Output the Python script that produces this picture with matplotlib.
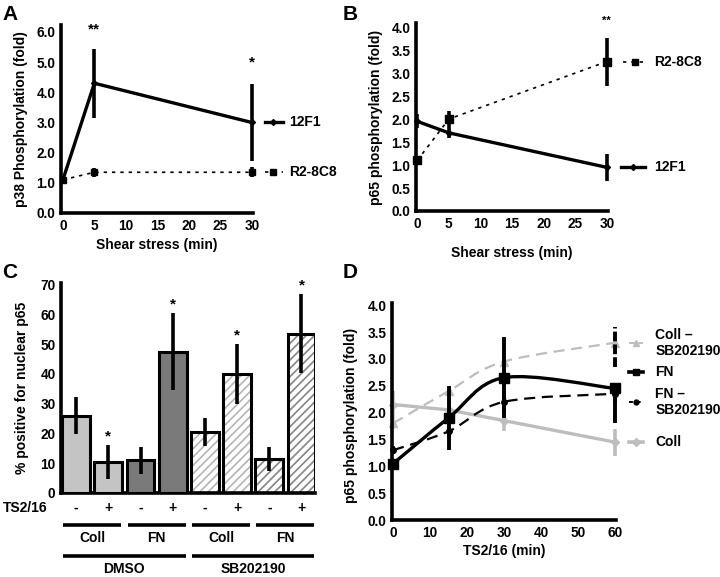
import numpy as np
import matplotlib.pyplot as plt
from matplotlib.path import Path
from matplotlib.patches import PathPatch
import matplotlib.transforms as mtransforms

plt.rcParams['font.family'] = ['Liberation Sans', 'DejaVu Sans']
plt.rcParams['font.weight'] = 'bold'
plt.rcParams['axes.labelweight'] = 'bold'
plt.rcParams['hatch.linewidth'] = 1.2

# ---------- data ----------
# A: p38 phosphorylation
a_x = [0, 5, 30]
a_12f1 = [1.1, 4.3, 3.0]
a_12f1_err = [0.0, 1.15, 1.28]
a_r2 = [1.1, 1.35, 1.35]
a_r2_err = [0.1, 0.15, 0.17]

# B: p65 phosphorylation
b_x = [0, 5, 30]
b_12f1 = [1.95, 1.7, 0.95]
b_12f1_err = [0.15, 0.12, 0.3]
b_r2 = [1.1, 2.0, 3.25]
b_r2_err = [0.0, 0.17, 0.52]

# C: bar chart
c_vals = [26, 10.5, 11, 47.5, 20.5, 40, 11.5, 53.5]
c_err = [6.3, 5.7, 4.5, 13, 4.8, 10, 4, 13.3]
c_star = [False, True, False, True, False, True, False, True]
c_sign = ['-', '+', '-', '+', '-', '+', '-', '+']
c_sub = ['Coll', 'FN', 'Coll', 'FN']
c_top = ['DMSO', 'SB202190']

# D: time course
d_x = [0, 15, 30, 60]
d_fn = [1.05, 1.9, 2.65, 2.45]
d_fn_err = [0.0, 0.6, 0.75, 0.0]
d_fn_sb = [1.3, 1.65, 2.2, 2.35]
d_fn_sb_err = [0.08, 0.1, 0.2, 0.15]
d_coll_sb = [1.8, 2.4, 2.95, 3.3]
d_coll_sb_err = [0.1, 0.1, 0.1, 0.1]
d_coll = [2.15, 2.05, 1.85, 1.45]
d_coll_err = [0.25, 0.1, 0.2, 0.25]
d_fn60_hi = [2.85, 3.6]   # dashed error bar at 60 min, upper part
d_fn60_lo = [1.85, 2.5]

LW = 2.4
GRAY = '#bdbdbd'
TICK = 9.8
LAB = 10

fig = plt.figure(figsize=(7.2, 5.77), dpi=100)
W, H = 720, 577


def add_ax(l, t, r, b):
    return fig.add_axes([l / W, 1 - b / H, (r - l) / W, (b - t) / H])


def style(ax):
    for s in ['top', 'right']:
        ax.spines[s].set_visible(False)
    for s in ['left', 'bottom']:
        ax.spines[s].set_linewidth(2.6)
    ax.tick_params(length=0, labelsize=TICK, pad=4)


def smooth(ax, x, y, sx, sy, **kw):
    # Excel-like smoothed line (cubic bezier through points)
    p = np.column_stack([np.array(x) * sx, np.array(y) * sy])
    verts = [p[0]]
    codes = [Path.MOVETO]
    n = len(p)
    for i in range(n - 1):
        p0 = p[i - 1] if i > 0 else p[i]
        p3 = p[i + 2] if i + 2 < n else p[i + 1]
        c1 = p[i] + (p[i + 1] - p0) / 6
        c2 = p[i + 1] - (p3 - p[i]) / 6
        verts += [c1, c2, p[i + 1]]
        codes += [Path.CURVE4] * 3
    verts = np.array(verts) / [sx, sy]
    ax.add_patch(PathPatch(Path(verts, codes), fill=False, **kw))


# ---------- A ----------
axA = add_ax(61, 25, 253, 213)
style(axA)
axA.set_xlim(-0.3, 30.2)
axA.set_ylim(0, 6.23)
axA.set_yticks(np.arange(0, 6.1, 1.0))
axA.set_yticklabels([f'{v:.1f}' for v in np.arange(0, 6.1, 1.0)])
axA.set_xticks([0, 5, 10, 15, 20, 25, 30])
axA.errorbar(a_x, a_r2, yerr=a_r2_err, color='black', lw=1.2, ls=(0, (2, 3)),
             marker='s', ms=5, elinewidth=2.6, capsize=0, clip_on=False, zorder=3)
axA.errorbar(a_x, a_12f1, yerr=a_12f1_err, color='black', lw=LW, marker='D', ms=3,
             elinewidth=2.6, capsize=0, clip_on=False, zorder=4)
axA.set_ylabel('p38 Phosphorylation (fold)', fontsize=LAB, labelpad=6)
axA.set_xlabel('Shear stress (min)', fontsize=LAB, labelpad=4)
axA.text(5, 5.85, '**', ha='center', va='bottom', fontsize=11)
axA.text(30, 4.75, '*', ha='center', va='bottom', fontsize=11)
trA = mtransforms.blended_transform_factory(axA.transAxes, axA.transData)
axA.plot([1.06, 1.155], [3.0, 3.0], transform=trA, color='black', lw=LW, clip_on=False)
axA.plot([1.105], [3.0], transform=trA, marker='D', ms=3, color='black', clip_on=False)
axA.text(1.19, 3.0, '12F1', transform=trA, va='center', fontsize=LAB)
axA.plot([1.06, 1.155], [1.35, 1.35], transform=trA, color='black', lw=1.2,
         ls=(0, (2, 3)), clip_on=False)
axA.plot([1.105], [1.35], transform=trA, marker='s', ms=5, color='black', clip_on=False)
axA.text(1.19, 1.35, 'R2-8C8', transform=trA, va='center', fontsize=LAB)

# ---------- B ----------
axB = add_ax(416, 23, 608, 211)
style(axB)
axB.set_xlim(-0.2, 30.2)
axB.set_ylim(0, 4.09)
yt = np.arange(0, 4.01, 0.5)
axB.set_yticks(yt)
axB.set_yticklabels([f'{v:.1f}' for v in yt])
axB.set_xticks([0, 5, 10, 15, 20, 25, 30])
axB.errorbar(b_x, b_r2, yerr=b_r2_err, color='black', lw=1.2, ls=(0, (2, 3)),
             marker='s', ms=6, elinewidth=2.6, capsize=0, clip_on=False, zorder=3)
axB.errorbar(b_x, b_12f1, yerr=b_12f1_err, color='black', lw=LW, marker='D', ms=3,
             elinewidth=2.6, capsize=0, clip_on=False, zorder=4)
axB.set_ylabel('p65 phosphorylation (fold)', fontsize=LAB, labelpad=6)
axB.set_xlabel('Shear stress (min)', fontsize=LAB, labelpad=11)
axB.text(30, 4.02, '**', ha='center', va='bottom', fontsize=8)
trB = mtransforms.blended_transform_factory(axB.transAxes, axB.transData)
axB.plot([1.08, 1.21], [3.25, 3.25], transform=trB, color='black', lw=1.2,
         ls=(0, (2, 3)), clip_on=False)
axB.plot([1.14], [3.25], transform=trB, marker='s', ms=5, color='black', clip_on=False)
axB.text(1.24, 3.25, 'R2-8C8', transform=trB, va='center', fontsize=LAB)
axB.plot([1.07, 1.195], [0.95, 0.95], transform=trB, color='black', lw=LW, clip_on=False)
axB.plot([1.13], [0.95], transform=trB, marker='D', ms=3, color='black', clip_on=False)
axB.text(1.24, 0.95, '12F1', transform=trB, va='center', fontsize=LAB)

# ---------- C ----------
axC = add_ax(61, 283, 315, 493)
style(axC)
axC.set_ylim(0, 70.5)
axC.set_xlim(-0.47, 7.42)
axC.set_yticks(range(0, 71, 10))
axC.set_xticks([])
pos = np.arange(len(c_vals))
faces = ['#c4c4c4', '#c4c4c4', '#7a7a7a', '#7a7a7a', 'white', 'white', 'white', 'white']
hatches = [None, None, None, None, '////', '////', '////', '////']
hcols = [None, None, None, None, '#b5b5b5', '#b5b5b5', '#858585', '#858585']
for i in pos:
    if hatches[i]:
        axC.bar(i, c_vals[i], width=0.86, color='white', edgecolor=hcols[i],
                hatch=hatches[i], lw=0, zorder=2)
        axC.bar(i, c_vals[i], width=0.86, color='none', edgecolor='black', lw=2.2, zorder=3)
    else:
        axC.bar(i, c_vals[i], width=0.86, color=faces[i], edgecolor='black', lw=2.2, zorder=3)
axC.errorbar(pos, c_vals, yerr=c_err, fmt='none', ecolor='black', elinewidth=2.6,
             capsize=0, zorder=4)
for i in pos:
    if c_star[i]:
        axC.text(i, c_vals[i] + c_err[i] + 0.5, '*', ha='center', va='bottom', fontsize=11)
    axC.text(i, -5, c_sign[i], ha='center', va='center', fontsize=LAB)
axC.text(-1.58, -5, 'TS2/16', ha='center', va='center', fontsize=LAB)
axC.set_ylabel('% positive for nuclear p65', fontsize=LAB, labelpad=8)
trC = mtransforms.blended_transform_factory(axC.transData, axC.transAxes)
for g in range(4):
    x0, x1 = 2 * g - 0.4, 2 * g + 1.4
    axC.plot([x0, x1], [-0.152, -0.152], transform=trC, color='black', lw=2.6,
             clip_on=False, solid_capstyle='butt')
    axC.text(2 * g + 0.5, -0.215, c_sub[g], transform=trC, ha='center', va='center',
             fontsize=LAB)
for g in range(2):
    x0, x1 = 4 * g - 0.4, 4 * g + 3.4
    axC.plot([x0, x1], [-0.30, -0.30], transform=trC, color='black', lw=2.6,
             clip_on=False, solid_capstyle='butt')
    axC.text(4 * g + 1.5, -0.362, c_top[g], transform=trC, ha='center', va='center',
             fontsize=LAB)

# ---------- D ----------
axD = add_ax(392, 303, 616, 520)
style(axD)
axD.set_xlim(-0.3, 60.3)
axD.set_ylim(0, 4.04)
axD.set_yticks(yt)
axD.set_yticklabels([f'{v:.1f}' for v in yt])
axD.set_xticks([0, 10, 20, 30, 40, 50, 60])
axD.set_xlabel('TS2/16 (min)', fontsize=LAB, labelpad=3)
fig.text(351 / W, 1 - 415 / H, 'p65 phosphorylation (fold)', rotation=90,
         ha='center', va='center', fontsize=LAB)
sx, sy = 224 / 60.6, 217 / 4.04
# Coll (gray solid)
axD.errorbar(d_x, d_coll, yerr=d_coll_err, color=GRAY, lw=LW, marker='D', ms=4,
             elinewidth=2.6, capsize=0, clip_on=False, zorder=2)
# Coll - SB (gray dashed)
smooth(axD, d_x, d_coll_sb, sx, sy, color=GRAY, lw=1.6, ls=(0, (5, 3)), zorder=2)
axD.errorbar(d_x, d_coll_sb, yerr=d_coll_sb_err, fmt='^', color=GRAY, ms=6,
             elinewidth=2.6, capsize=0, clip_on=False, zorder=2)
# FN - SB (black dashed)
smooth(axD, d_x, d_fn_sb, sx, sy, color='black', lw=1.6, ls=(0, (5, 3)), zorder=3)
axD.errorbar(d_x, d_fn_sb, yerr=d_fn_sb_err, fmt='o', color='black', ms=4,
             elinewidth=2.6, capsize=0, clip_on=False, zorder=3)
# FN (black solid smoothed)
smooth(axD, d_x, d_fn, sx, sy, color='black', lw=LW, zorder=4)
axD.errorbar(d_x, d_fn, yerr=d_fn_err, fmt='s', color='black', ms=7,
             elinewidth=2.8, capsize=0, clip_on=False, zorder=4)
axD.plot([60, 60], d_fn60_hi, color='black', lw=2.8, ls=(0, (2.5, 0.8)), zorder=4,
         clip_on=False)
axD.plot([60, 60], d_fn60_lo, color='black', lw=2.8, zorder=4, clip_on=False)
trD = mtransforms.blended_transform_factory(axD.transAxes, axD.transData)
items = [(3.3, 'Coll –\nSB202190', GRAY, (0, (3, 2)), '^', 5, 1.4),
         (2.75, 'FN', 'black', '-', 's', 5, 2.6),
         (2.2, 'FN –\nSB202190', 'black', (0, (2, 2)), 'o', 3.5, 1.4),
         (1.45, 'Coll', GRAY, '-', 'D', 4, 2.6)]
for y, lab, col, ls, mk, ms, lw in items:
    axD.plot([1.06, 1.12], [y, y], transform=trD, color=col, ls=ls, lw=lw, clip_on=False)
    axD.plot([1.09], [y], transform=trD, color=col, marker=mk, ms=ms, clip_on=False)
    axD.text(1.175, y, lab, transform=trD, va='center', fontsize=LAB, linespacing=1.2)

# ---------- panel letters ----------
for lab, x, y in [('A', 2, 5), ('B', 343, 5), ('C', 2, 263), ('D', 343, 263)]:
    fig.text(x / W, 1 - y / H, lab, ha='left', va='top', fontsize=15)

fig.savefig('out.png', dpi=100)
